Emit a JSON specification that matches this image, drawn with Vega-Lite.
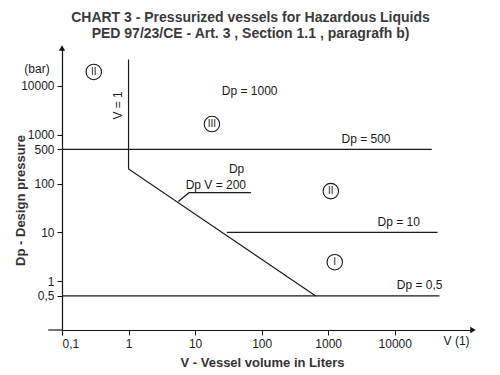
{
  "$schema": "https://vega.github.io/schema/vega-lite/v6.json",
  "width": 411,
  "height": 282,
  "autosize": "none",
  "padding": {"left": 62, "top": 48, "right": 27, "bottom": 45},
  "background": "white",
  "title": {
    "text": ["CHART 3 - Pressurized vessels for Hazardous Liquids", "PED 97/23/CE - Art. 3 , Section 1.1 , paragrafh b)"],
    "font": "Liberation Sans",
    "fontSize": 14,
    "fontWeight": "bold",
    "color": "#3a3a3a",
    "anchor": "middle",
    "frame": "group",
    "dx": -17,
    "offset": 4,
    "lineHeight": 16
  },
  "config": {
    "view": {"stroke": null},
    "axis": {"grid": false, "domainColor": "#111", "domainWidth": 1.2, "tickColor": "#111", "tickSize": 5, "labelFont": "Liberation Sans", "labelFontSize": 12, "labelColor": "#222", "titleFont": "Liberation Sans", "titleFontSize": 13, "titleFontWeight": "bold", "titleColor": "#333", "labelOverlap": false}
  },
  "datasets": {
    "lines": [
      {"seg": "v1", "o": 1, "V": 1, "Dp": 35000},
      {"seg": "v1", "o": 2, "V": 1, "Dp": 200},
      {"seg": "v1", "o": 3, "V": 650, "Dp": 0.5},
      {"seg": "dp500", "o": 1, "V": 0.1, "Dp": 500},
      {"seg": "dp500", "o": 2, "V": 36000, "Dp": 500},
      {"seg": "dp10", "o": 1, "V": 30, "Dp": 10},
      {"seg": "dp10", "o": 2, "V": 44000, "Dp": 10},
      {"seg": "dp05", "o": 1, "V": 0.1, "Dp": 0.5},
      {"seg": "dp05", "o": 2, "V": 47000, "Dp": 0.5},
      {"seg": "leader", "o": 1, "V": 5.6, "Dp": 43},
      {"seg": "leader", "o": 2, "V": 8.1, "Dp": 65},
      {"seg": "leader", "o": 3, "V": 69, "Dp": 65},
      {"seg": "xext", "o": 1, "V": 0.062, "Dp": 0.1},
      {"seg": "xext", "o": 2, "V": 0.1, "Dp": 0.1}
    ],
    "labels": [
      {"V": 66, "Dp": 8000, "text": "Dp = 1000"},
      {"V": 3700, "Dp": 820, "text": "Dp = 500"},
      {"V": 42, "Dp": 200, "text": "Dp"},
      {"V": 20.5, "Dp": 93, "text": "Dp V = 200"},
      {"V": 11500, "Dp": 16.2, "text": "Dp = 10"},
      {"V": 23700, "Dp": 0.83, "text": "Dp = 0,5"}
    ],
    "zones": [
      {"V": 0.30, "Dp": 19400, "text": "II"},
      {"V": 17.9, "Dp": 1660, "text": "III"},
      {"V": 1095, "Dp": 70, "text": "II"},
      {"V": 1255, "Dp": 2.45, "text": "I"}
    ],
    "v1label": [{"V": 0.69, "Dp": 4000, "text": "V = 1"}],
    "bar": [{"V": 0.1, "Dp": 22000, "text": "(bar)"}],
    "vunit": [{"V": 85000, "Dp": 0.1, "text": "V (1)"}],
    "arrowUp": [{"V": 0.1, "Dp": 60000}],
    "arrowRight": [{"V": 150000, "Dp": 0.1}]
  },
  "layer": [
    {
      "data": {"name": "lines"},
      "mark": {"type": "line", "color": "#1a1a1a", "strokeWidth": 1.2, "clip": false},
      "encoding": {
        "x": {"field": "V", "type": "quantitative", "scale": {"type": "log", "domain": [0.1, 150000], "nice": false},
          "axis": {"values": [0.1, 1, 10, 100, 1000, 10000], "labelExpr": "datum.value < 0.5 ? '0,1' : '' + datum.value", "title": "V - Vessel volume in Liters", "titleX": 200, "titleY": 32, "titleBaseline": "middle", "labelPadding": 3}},
        "y": {"field": "Dp", "type": "quantitative", "scale": {"type": "log", "domain": [0.1, 60000], "nice": false},
          "axis": {"values": [0.5, 1, 10, 100, 500, 1000, 10000], "labelExpr": "datum.value == 0.5 ? '0,5' : '' + datum.value", "title": "Dp - Design pressure", "titleX": -42, "titleY": 152, "titleBaseline": "middle", "titleAlign": "center", "labelPadding": 3}},
        "detail": {"field": "seg"},
        "order": {"field": "o"}
      }
    },
    {
      "data": {"name": "labels"},
      "mark": {"type": "text", "font": "Liberation Sans", "fontSize": 12, "color": "#1a1a1a", "baseline": "middle"},
      "encoding": {
        "x": {"field": "V", "type": "quantitative"},
        "y": {"field": "Dp", "type": "quantitative"},
        "text": {"field": "text"}
      }
    },
    {
      "data": {"name": "v1label"},
      "mark": {"type": "text", "font": "Liberation Sans", "fontSize": 12, "color": "#1a1a1a", "baseline": "middle", "angle": 270},
      "encoding": {
        "x": {"field": "V", "type": "quantitative"},
        "y": {"field": "Dp", "type": "quantitative"},
        "text": {"field": "text"}
      }
    },
    {
      "data": {"name": "zones"},
      "mark": {"type": "point", "shape": "circle", "size": 240, "stroke": "#1a1a1a", "strokeWidth": 1.1, "filled": false, "opacity": 1},
      "encoding": {
        "x": {"field": "V", "type": "quantitative"},
        "y": {"field": "Dp", "type": "quantitative"}
      }
    },
    {
      "data": {"name": "zones"},
      "mark": {"type": "text", "font": "Liberation Sans", "fontSize": 10, "color": "#1a1a1a", "baseline": "middle"},
      "encoding": {
        "x": {"field": "V", "type": "quantitative"},
        "y": {"field": "Dp", "type": "quantitative"},
        "text": {"field": "text"}
      }
    },
    {
      "data": {"name": "bar"},
      "mark": {"type": "text", "font": "Liberation Sans", "fontSize": 12, "color": "#1a1a1a", "baseline": "middle", "dx": -25, "clip": false},
      "encoding": {
        "x": {"field": "V", "type": "quantitative"},
        "y": {"field": "Dp", "type": "quantitative"},
        "text": {"field": "text"}
      }
    },
    {
      "data": {"name": "vunit"},
      "mark": {"type": "text", "font": "Liberation Sans", "fontSize": 12, "color": "#1a1a1a", "baseline": "top", "dy": 6, "clip": false},
      "encoding": {
        "x": {"field": "V", "type": "quantitative"},
        "y": {"field": "Dp", "type": "quantitative"},
        "text": {"field": "text"}
      }
    },
    {
      "data": {"name": "arrowUp"},
      "mark": {"type": "point", "shape": "triangle-up", "size": 40, "filled": true, "color": "#111", "opacity": 1},
      "encoding": {
        "x": {"field": "V", "type": "quantitative"},
        "y": {"field": "Dp", "type": "quantitative"}
      }
    },
    {
      "data": {"name": "arrowRight"},
      "mark": {"type": "point", "shape": "triangle-right", "size": 40, "filled": true, "color": "#111", "opacity": 1},
      "encoding": {
        "x": {"field": "V", "type": "quantitative"},
        "y": {"field": "Dp", "type": "quantitative"}
      }
    }
  ]
}
